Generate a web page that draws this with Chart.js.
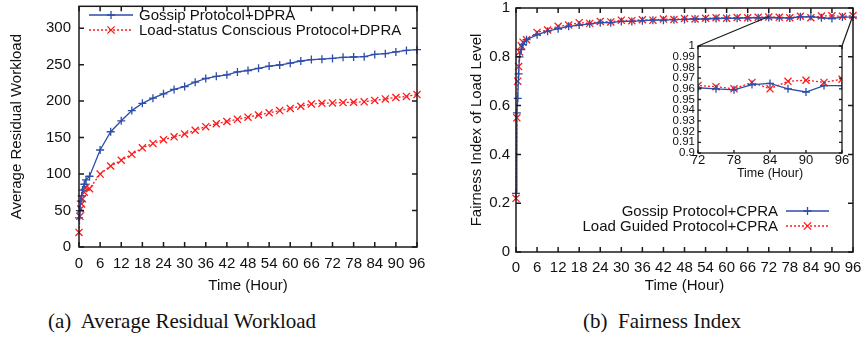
<!DOCTYPE html>
<html>
<head>
<meta charset="utf-8">
<script src="https://cdn.jsdelivr.net/npm/chart.js@4.4.1/dist/chart.umd.min.js"></script>
<style>
  body { margin: 0; background: #fff; width: 865px; height: 342px; position: relative; overflow: hidden; }
  canvas { position: absolute; }
  #left { left: 0; top: 0; }
  #right { left: 440px; top: 0; }
  #inset { left: 658px; top: 36px; }
  .cap { position: absolute; top: 309px; font: 21px 'Liberation Serif', 'Times New Roman', serif; color: #111; white-space: pre; }
</style>
</head>
<body>
<canvas id="left" width="430" height="300"></canvas>
<canvas id="right" width="425" height="300"></canvas>
<canvas id="inset" width="196" height="150"></canvas>
<div class="cap" style="left:48px">(a)  Average Residual Workload</div>
<div class="cap" style="left:583px">(b)  Fairness Index</div>
<script>
// sample times (hours)
var hours = [0, 0.25, 0.5, 0.75, 1, 1.5, 2, 3, 6, 9, 12, 15, 18, 21, 24, 27, 30, 33, 36, 39, 42, 45, 48, 51, 54, 57, 60, 63, 66, 69, 72, 75, 78, 81, 84, 87, 90, 93, 96];

// (a) average residual workload
var gossipWorkload = [40, 50, 63, 70, 78, 86, 92, 97, 133, 158, 173, 187, 197, 204, 210, 216, 220, 226, 231, 234, 236, 240, 242, 245, 248, 249.5, 252, 255, 257, 257.5, 258.5, 260, 260.5, 261, 264, 265, 267.5, 269.5, 270.5];
var loadStatusWorkload = [20, 42, 52, 59, 66, 75, 82, 80, 100, 111, 119, 127, 136, 142, 147, 151, 155, 160, 165, 169, 172, 175, 178, 181, 184, 187, 190, 193, 196, 197, 197.5, 198, 198.5, 199, 201, 203, 205, 206.5, 209];

// (b) fairness index
var gossipFairness = [0.24, 0.57, 0.63, 0.73, 0.80, 0.83, 0.85, 0.87, 0.89, 0.905, 0.915, 0.925, 0.93, 0.935, 0.94, 0.94, 0.945, 0.945, 0.948, 0.95, 0.95, 0.952, 0.953, 0.955, 0.955, 0.957, 0.958, 0.958, 0.96, 0.96, 0.961, 0.960, 0.959, 0.964, 0.965, 0.960, 0.957, 0.963, 0.963];
var loadGuidedFairness = [0.22, 0.55, 0.70, 0.76, 0.82, 0.845, 0.86, 0.87, 0.90, 0.91, 0.925, 0.93, 0.94, 0.937, 0.945, 0.943, 0.95, 0.948, 0.952, 0.95, 0.955, 0.953, 0.957, 0.955, 0.958, 0.96, 0.958, 0.961, 0.96, 0.962, 0.963, 0.962, 0.960, 0.966, 0.960, 0.967, 0.968, 0.966, 0.969];

// tick values
var hourTicks = [0, 6, 12, 18, 24, 30, 36, 42, 48, 54, 60, 66, 72, 78, 84, 90, 96];
var workloadTicks = [0, 50, 100, 150, 200, 250, 300];
var fairnessTicks = [0, 0.2, 0.4, 0.6, 0.8, 1];
var insetHourTicks = [72, 78, 84, 90, 96];
var insetFairnessTicks = [0.9, 0.91, 0.92, 0.93, 0.94, 0.95, 0.96, 0.97, 0.98, 0.99, 1];

var FONT = "'Liberation Sans', Arial, sans-serif";
var INK = '#111';
var BLUE = '#2d4ea8';
var RED = '#ff1a1a';

function points(vals) {
    return hours.map(function (h, i) { return { x: h, y: vals[i] }; });
}

function drawMarker(ctx, style, x, y, r) {
    ctx.beginPath();
    if (style === 'cross') {
        ctx.moveTo(x - r, y); ctx.lineTo(x + r, y);
        ctx.moveTo(x, y - r); ctx.lineTo(x, y + r);
    } else {
        var d = r * 0.72;
        ctx.moveTo(x - d, y - d); ctx.lineTo(x + d, y + d);
        ctx.moveTo(x - d, y + d); ctx.lineTo(x + d, y - d);
    }
    ctx.stroke();
}

// gnuplot style frame: border plus inward ticks on all four sides
var frame = {
    id: 'frame',
    afterDatasetsDraw: function (chart, args, opts) {
        var ctx = chart.ctx, a = chart.chartArea, x = chart.scales.x, y = chart.scales.y;
        var len = opts.len || 5;
        ctx.save();
        ctx.strokeStyle = '#1a1a1a';
        ctx.lineWidth = opts.width || 1.5;
        ctx.setLineDash([]);
        ctx.beginPath();
        x.ticks.forEach(function (t) {
            var px = x.getPixelForValue(t.value);
            ctx.moveTo(px, a.bottom); ctx.lineTo(px, a.bottom - len);
            ctx.moveTo(px, a.top); ctx.lineTo(px, a.top + len);
        });
        y.ticks.forEach(function (t) {
            var py = y.getPixelForValue(t.value);
            ctx.moveTo(a.left, py); ctx.lineTo(a.left + len, py);
            ctx.moveTo(a.right, py); ctx.lineTo(a.right - len, py);
        });
        ctx.stroke();
        ctx.strokeRect(a.left, a.top, a.right - a.left, a.bottom - a.top);
        ctx.restore();
    }
};

// legend with line sample + marker, text left or right of the sample
var keyBox = {
    id: 'keyBox',
    afterDraw: function (chart, args, opts) {
        if (!opts.x0) return;
        var ctx = chart.ctx;
        ctx.save();
        ctx.font = '15px ' + FONT;
        ctx.fillStyle = INK;
        ctx.textBaseline = 'middle';
        chart.data.datasets.forEach(function (ds, i) {
            var yy = opts.y + i * opts.dy;
            ctx.strokeStyle = ds.borderColor;
            ctx.lineWidth = ds.borderWidth;
            ctx.setLineDash(ds.borderDash || []);
            ctx.beginPath();
            ctx.moveTo(opts.x0, yy); ctx.lineTo(opts.x1, yy);
            ctx.stroke();
            ctx.setLineDash([]);
            ctx.lineWidth = ds.pointBorderWidth;
            drawMarker(ctx, ds.pointStyle, (opts.x0 + opts.x1) / 2, yy, ds.pointRadius);
            ctx.textAlign = opts.align;
            ctx.fillText(ds.label, opts.textX, yy + 1);
        });
        ctx.restore();
    }
};

// the two lines joining the zoomed region to the inset
var insetCorners = null;
var zoomLines = {
    id: 'zoomLines',
    afterDraw: function (chart) {
        if (!insetCorners) return;
        var ctx = chart.ctx, x = chart.scales.x, y = chart.scales.y;
        ctx.save();
        ctx.strokeStyle = '#1a1a1a';
        ctx.lineWidth = 1.2;
        ctx.beginPath();
        ctx.moveTo(x.getPixelForValue(72), y.getPixelForValue(0.965));
        ctx.lineTo(insetCorners.left, insetCorners.top);
        ctx.moveTo(x.getPixelForValue(96), y.getPixelForValue(0.97));
        ctx.lineTo(insetCorners.right, insetCorners.top);
        ctx.stroke();
        ctx.restore();
    }
};

function series(label, vals, color, style, dash, r, clip) {
    return {
        label: label,
        data: points(vals),
        borderColor: color,
        backgroundColor: color,
        borderWidth: 1.3,
        borderDash: dash,
        pointStyle: style,
        pointRadius: r,
        pointBorderWidth: 1.3,
        pointBorderColor: color,
        tension: 0,
        clip: clip
    };
}

function axis(min, max, tickVals, size, pad, title, titlePad, fit, fmt, titleSize) {
    var s = {
        type: 'linear',
        min: min,
        max: max,
        grid: { display: false, drawTicks: false },
        border: { display: false },
        ticks: {
            autoSkip: false,
            maxRotation: 0,
            padding: pad,
            color: INK,
            font: { family: FONT, size: size }
        },
        title: {
            display: !!title,
            text: title,
            color: INK,
            padding: titlePad,
            font: { family: FONT, size: titleSize || size }
        },
        afterBuildTicks: function (sc) {
            sc.ticks = tickVals.map(function (v) { return { value: v }; });
        },
        afterFit: function (sc) {
            fit(sc);
            sc.paddingTop = 0; sc.paddingBottom = 0;
            sc.paddingLeft = 0; sc.paddingRight = 0;
        }
    };
    if (fmt) s.ticks.callback = fmt;
    return s;
}

var fmt2 = function (v) { return String(+v.toFixed(2)); };

function baseOptions(scales, padding, plugins) {
    return {
        responsive: false,
        animation: false,
        devicePixelRatio: 1,
        events: [],
        layout: { padding: padding },
        scales: scales,
        plugins: Object.assign({ legend: { display: false }, tooltip: { enabled: false } }, plugins)
    };
}

// (a)
new Chart(document.getElementById('left'), {
    type: 'line',
    data: {
        datasets: [
            series('Gossip Protocol+DPRA', gossipWorkload, BLUE, 'cross', [], 4, 8),
            series('Load-status Conscious Protocol+DPRA', loadStatusWorkload, RED, 'crossRot', [2, 2], 5, 8)
        ]
    },
    options: baseOptions({
        x: axis(0, 96, hourTicks, 15, 8, 'Time (Hour)', { top: 0, bottom: 5 }, function (s) { s.height = 53; }),
        y: axis(0, 330, workloadTicks, 15, 8, 'Average Residual Workload', { top: 8, bottom: 0 }, function (s) { s.width = 79; })
    }, { top: 3, right: 13, left: 0, bottom: 0 }, {
        frame: { len: 5 },
        keyBox: { x0: 89, x1: 133, textX: 139, y: 15, dy: 15, align: 'left' }
    }),
    plugins: [frame, keyBox]
});

// inset of (b)
var insetChart = new Chart(document.getElementById('inset'), {
    type: 'line',
    data: {
        datasets: [
            series('Gossip Protocol+CPRA', gossipFairness, BLUE, 'cross', [], 4, 0),
            series('Load Guided Protocol+CPRA', loadGuidedFairness, RED, 'crossRot', [2, 2], 5, 0)
        ]
    },
    options: baseOptions({
        x: axis(72, 96, insetHourTicks, 13, 0, 'Time (Hour)', { top: 0, bottom: 5 }, function (s) { s.height = 33; }, null, 12.5),
        y: axis(0.9, 1, insetFairnessTicks, 11.5, 3, '', 0, function (s) { s.width = 40; }, fmt2)
    }, { top: 10, right: 12, left: 0, bottom: 0 }, {
        frame: { len: 3, width: 1.3 }
    }),
    plugins: [frame]
});

var ia = insetChart.chartArea;
var offX = 658 - 440, offY = 36;
insetCorners = { left: ia.left + offX, right: ia.right + offX, top: ia.top + offY };

// (b)
new Chart(document.getElementById('right'), {
    type: 'line',
    data: {
        datasets: [
            series('Gossip Protocol+CPRA', gossipFairness, BLUE, 'cross', [], 4, 8),
            series('Load Guided Protocol+CPRA', loadGuidedFairness, RED, 'crossRot', [2, 2], 5, 8)
        ]
    },
    options: baseOptions({
        x: axis(0, 96, hourTicks, 15, 7, 'Time (Hour)', { top: 0, bottom: 5 }, function (s) { s.height = 48; }),
        y: axis(0, 1, fairnessTicks, 15, 6, 'Fairness Index of Load Level', { top: 28, bottom: 0 }, function (s) { s.width = 76; }, fmt2)
    }, { top: 8, right: 12, left: 0, bottom: 0 }, {
        frame: { len: 5 },
        keyBox: { x0: 346, x1: 389, textX: 338, y: 211, dy: 15, align: 'right' }
    }),
    plugins: [zoomLines, frame, keyBox]
});
</script>
</body>
</html>
